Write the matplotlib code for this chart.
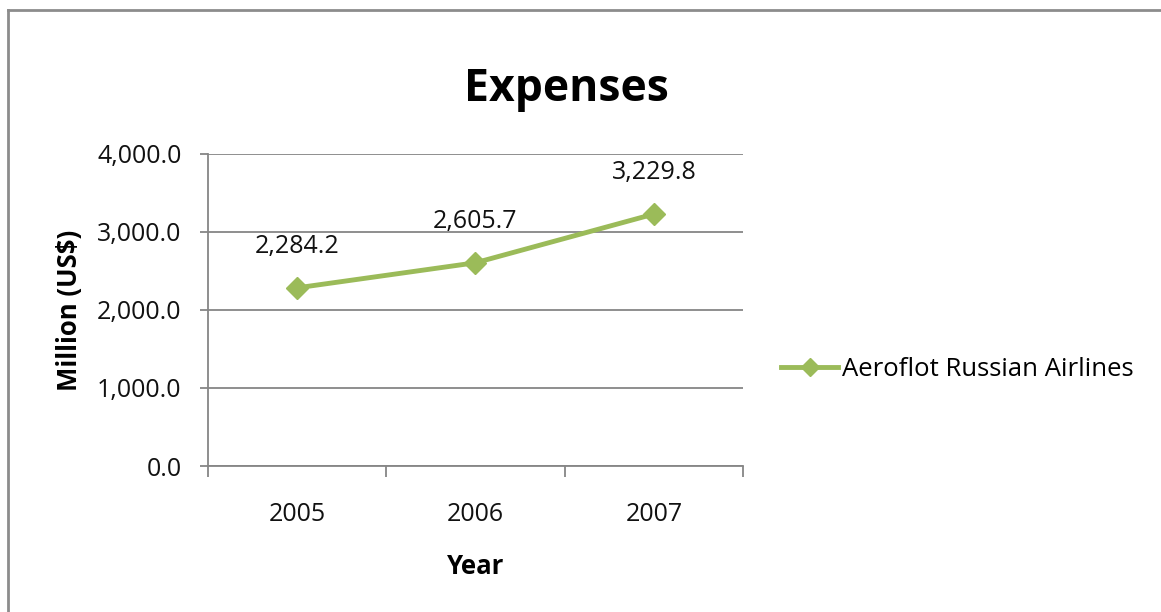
import matplotlib.pyplot as plt
from matplotlib.lines import Line2D
from matplotlib.ticker import FuncFormatter

years = ["2005", "2006", "2007"]
expenses = [2284.2, 2605.7, 3229.8]
series_name = "Aeroflot Russian Airlines"

green = "#9BBB59"
grey = "#868686"

plt.rcParams["font.family"] = ["Open Sans", "DejaVu Sans"]

W, H = 1161, 612
fig = plt.figure(figsize=(W / 100, H / 100), dpi=100)
ax = fig.add_axes([208 / W, 1 - 466 / H, 535 / W, 312 / H])

x = list(range(len(years)))
ax.plot(x, expenses, color=green, linewidth=3.5, marker="D", markersize=11,
        label=series_name, zorder=3)
for xi, v in zip(x, expenses):
    ax.annotate(f"{v:,.1f}", (xi, v), xytext=(0, 30), textcoords="offset points",
                ha="center", va="center", fontsize=18, color="#111111")

ax.set_xlim(-0.5, len(years) - 0.5)
ax.set_ylim(0, 4000)
ax.set_yticks([0, 1000, 2000, 3000, 4000])
ax.yaxis.set_major_formatter(FuncFormatter(lambda v, p: f"{v:,.1f}"))
ax.set_xticks(x)
ax.set_xticklabels(years)
ax.set_xticks([i - 0.5 for i in range(len(years) + 1)], minor=True)

ax.grid(axis="y", color=grey, linewidth=1.3)
ax.set_axisbelow(True)
for side in ["top", "right"]:
    ax.spines[side].set_visible(False)
for side in ["left", "bottom"]:
    ax.spines[side].set_color(grey)
    ax.spines[side].set_linewidth(1.3)

ax.tick_params(axis="y", length=6, width=1.3, color=grey, pad=13,
               labelsize=18, labelcolor="#111111")
ax.tick_params(axis="x", which="major", length=0, pad=26,
               labelsize=18, labelcolor="#111111")
ax.tick_params(axis="x", which="minor", length=8, width=1.3, color=grey)

fig.text(566 / W, 1 - 90 / H, "Expenses", ha="center", va="center",
         fontsize=32, fontweight="bold", color="#000000")
fig.text(69 / W, 1 - 310 / H, "Million (US$)", rotation=90, ha="center",
         va="center", fontsize=18.5, fontweight="bold", color="#000000")
fig.text(476 / W, 1 - 566 / H, "Year", ha="center", va="center",
         fontsize=18.5, fontweight="bold", color="#000000")

ax.legend(loc="center left", bbox_to_anchor=(771 / W, 1 - 369 / H),
          bbox_transform=fig.transFigure, frameon=False, fontsize=18.5,
          handlelength=2.2, handletextpad=0.15, borderaxespad=0,
          markerscale=0.8)

# chart area border
fig.add_artist(Line2D([8 / W, 8 / W], [0, 1 - 10 / H], color="#8c8c8c",
                      linewidth=2, transform=fig.transFigure))
fig.add_artist(Line2D([8 / W, 1], [1 - 10 / H, 1 - 10 / H], color="#8c8c8c",
                      linewidth=2, transform=fig.transFigure))

fig.savefig("out.png", dpi=100)
